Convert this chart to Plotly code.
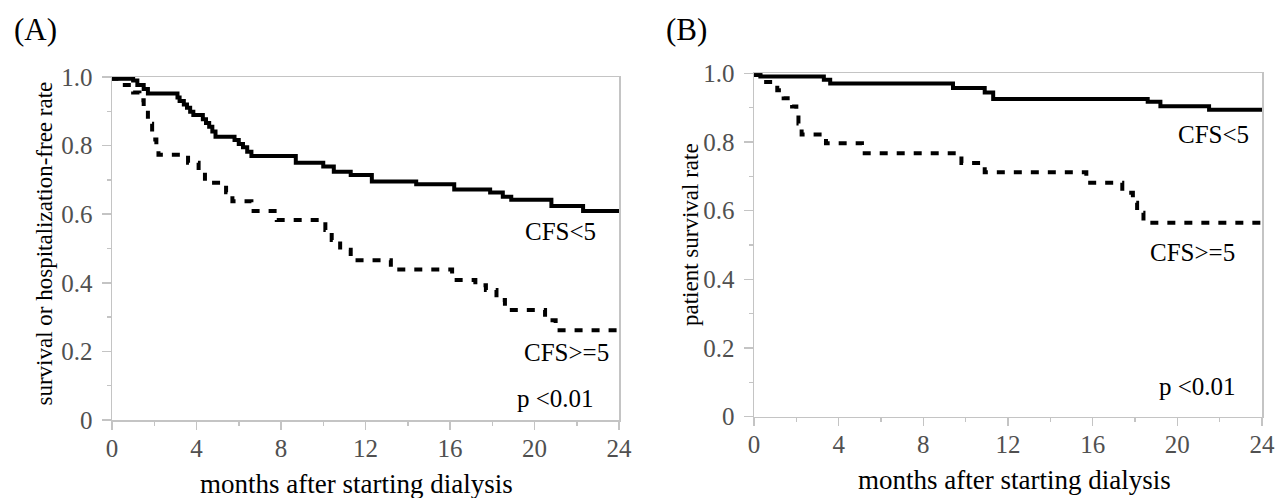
import plotly.graph_objects as go

# ---------------- data ----------------
# Panel A: survival or hospitalization-free rate
a_cfs_lt5_t = [0, 1.0, 1.2, 1.5, 1.7, 3.1, 3.2, 3.4, 3.55, 3.7, 3.85, 4.3, 4.45, 4.6, 4.75, 4.9,
               5.8, 6.0, 6.2, 6.4, 6.6, 8.7, 10.0, 10.5, 11.3, 12.3, 14.4, 16.2, 17.9, 18.5, 18.9,
               20.8, 22.3, 24]
a_cfs_lt5_s = [0.995, 0.99, 0.977, 0.965, 0.952, 0.940, 0.930, 0.920, 0.910, 0.899, 0.889, 0.877,
               0.866, 0.855, 0.841, 0.826, 0.816, 0.805, 0.795, 0.782, 0.770, 0.750, 0.739, 0.724,
               0.714, 0.695, 0.687, 0.672, 0.663, 0.651, 0.642, 0.624, 0.609, 0.609]

a_cfs_ge5_t = [0, 0.3, 1.0, 1.3, 1.5, 1.7, 1.9, 2.1, 2.2, 3.6, 4.1, 4.4, 5.4, 5.7, 6.6, 7.8, 10.1,
               10.4, 10.8, 11.3, 13.2, 16.1, 17.2, 17.7, 18.2, 18.6, 20.5, 21.0, 24]
a_cfs_ge5_s = [0.995, 0.977, 0.955, 0.932, 0.909, 0.864, 0.818, 0.795, 0.773, 0.750, 0.727, 0.692,
               0.664, 0.638, 0.609, 0.583, 0.554, 0.525, 0.496, 0.466, 0.439, 0.408, 0.393, 0.379,
               0.350, 0.321, 0.291, 0.262, 0.262]

# Panel B: patient survival rate
b_cfs_lt5_t = [0, 0.3, 3.3, 3.6, 9.4, 10.9, 11.3, 18.6, 19.2, 21.5, 24]
b_cfs_lt5_s = [0.995, 0.991, 0.981, 0.970, 0.957, 0.944, 0.925, 0.917, 0.904, 0.894, 0.894]

b_cfs_ge5_t = [0, 0.3, 1.1, 1.4, 1.8, 2.0, 2.1, 2.25, 3.4, 5.1, 9.8, 10.9, 15.7, 17.4, 17.9, 18.1,
               18.4, 24]
b_cfs_ge5_s = [0.995, 0.975, 0.951, 0.927, 0.903, 0.878, 0.854, 0.822, 0.796, 0.767, 0.739, 0.712,
               0.681, 0.652, 0.623, 0.594, 0.565, 0.565]

x_tickvals = [0, 4, 8, 12, 16, 20, 24]
y_tickvals = [0, 0.2, 0.4, 0.6, 0.8, 1.0]
y_ticktext = ["0", "0.2", "0.4", "0.6", "0.8", "1.0"]

# ---------------- figure ----------------
W, H = 1288, 498
SERIF = "Liberation Serif"

fig = go.Figure()

solid = dict(color="black", width=4, shape="hv")
dashed = dict(color="black", width=4, shape="hv", dash="8px,9px")

fig.add_trace(go.Scatter(x=a_cfs_lt5_t, y=a_cfs_lt5_s, mode="lines", line=solid,
                         xaxis="x", yaxis="y", showlegend=False, hoverinfo="skip"))
fig.add_trace(go.Scatter(x=a_cfs_ge5_t, y=a_cfs_ge5_s, mode="lines", line=dashed,
                         xaxis="x", yaxis="y", showlegend=False, hoverinfo="skip"))
fig.add_trace(go.Scatter(x=b_cfs_lt5_t, y=b_cfs_lt5_s, mode="lines", line=solid,
                         xaxis="x2", yaxis="y2", showlegend=False, hoverinfo="skip"))
fig.add_trace(go.Scatter(x=b_cfs_ge5_t, y=b_cfs_ge5_s, mode="lines", line=dashed,
                         xaxis="x2", yaxis="y2", showlegend=False, hoverinfo="skip"))

AXC = "#c4c4c4"
axis_common = dict(
    showgrid=False, zeroline=False, showline=True, linecolor=AXC, linewidth=1.5,
    mirror=True, ticks="outside", tickwidth=1.5, tickcolor=AXC, automargin=False,
    tickfont=dict(family=SERIF, size=25, color="#505050"),
)

def xax(domain, anchor):
    return dict(axis_common, domain=domain, anchor=anchor, range=[0, 24],
                tickvals=x_tickvals, ticklen=8, ticklabelstandoff=-3,
                minor=dict(ticks="outside", ticklen=4, dtick=2, tick0=0,
                           tickcolor=AXC, tickwidth=1.5))

def yax(domain, anchor):
    return dict(axis_common, domain=domain, anchor=anchor, range=[0, 1],
                tickvals=y_tickvals, ticktext=y_ticktext, ticklen=9, ticklabelstandoff=4,
                minor=dict(ticks="outside", ticklen=4, dtick=0.1, tick0=0,
                           tickcolor=AXC, tickwidth=1.5))

fig.update_layout(
    template="none",
    width=W, height=H,
    margin=dict(l=0, r=0, t=0, b=0, pad=0, autoexpand=False),
    paper_bgcolor="white", plot_bgcolor="white",
    font=dict(family=SERIF, color="black"),
    xaxis=xax([112 / W, 619 / W], "y"),
    yaxis=yax([1 - 420 / H, 1 - 77 / H], "x"),
    xaxis2=xax([754 / W, 1262 / W], "y2"),
    yaxis2=yax([1 - 416.7 / H, 1 - 73.3 / H], "x2"),
)

def paper_text(text, x, y, size, angle=0, xanchor="center", color="black"):
    fig.add_annotation(text=text, x=x / W, y=1 - y / H, xref="paper", yref="paper",
                       showarrow=False, xanchor=xanchor, yanchor="middle", textangle=angle,
                       font=dict(family=SERIF, size=size, color=color))

def data_text(text, x, y, xr, yr):
    fig.add_annotation(text=text, x=x, y=y, xref=xr, yref=yr, showarrow=False,
                       xanchor="right", yanchor="middle",
                       font=dict(family=SERIF, size=25, color="black"))

# panel letters
paper_text("(A)", 12, 30, 31, xanchor="left")
paper_text("(B)", 664, 30, 31, xanchor="left")

# axis titles
paper_text("months after starting dialysis", 356, 484, 27)
paper_text("months after starting dialysis", 1014, 480, 27)
paper_text("survival or hospitalization-free rate", 44, 243.5, 23, angle=-90)
paper_text("patient survival rate", 690, 235, 23, angle=-90)

# curve labels and p-values
data_text("CFS&lt;5", 23.0, 0.551, "x", "y")
data_text("CFS&gt;=5", 23.6, 0.198, "x", "y")
data_text("p &lt;0.01", 22.9, 0.064, "x", "y")
data_text("CFS&lt;5", 23.5, 0.823, "x2", "y2")
data_text("CFS&gt;=5", 22.8, 0.477, "x2", "y2")
data_text("p &lt;0.01", 22.86, 0.087, "x2", "y2")

fig.write_html("out.html",
               config={"displayModeBar": False, "staticPlot": True},
               post_script="document.body.style.margin='0px';document.body.style.overflow='hidden';")
